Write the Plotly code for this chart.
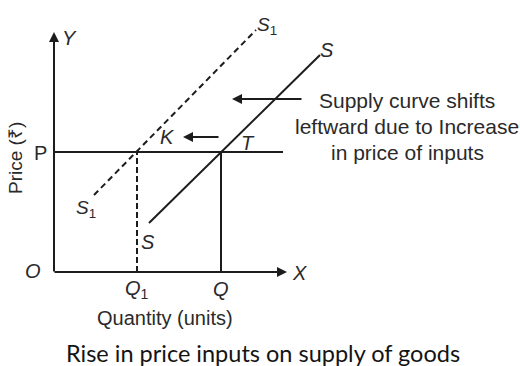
import plotly.graph_objects as go

# Price and quantity levels (origin O at 0, 0)
P = 12.0
Q1 = 8.3
Q = 16.7

# Original supply curve S (solid) and shifted supply curve S1 (dashed)
s_x = [9.5, 26.6]
s_y = [4.9, 21.7]
s1_x = [4.0, 20.2]
s1_y = [7.7, 24.2]

# Axis extents
x_axis_end = 23.3
y_axis_end = 24.0
price_line_end = 22.9

# Shift-indicating arrows (tail x, head x, height)
shift_arrow = (24.9, 17.8, 17.3)
k_arrow = (16.6, 12.9, 13.5)

note_lines = ["Supply curve shifts", "leftward due to Increase", "in price of inputs"]
title_text = "Rise in price inputs on supply of goods"

INK = "#1c1c1c"
TXT = "#2a2a2a"
LINE_FONT = "Liberation Sans, Arial, sans-serif"

fig = go.Figure()

# Price line P
fig.add_trace(go.Scatter(x=[0, price_line_end], y=[P, P], mode="lines",
                         line=dict(color=INK, width=2), hoverinfo="skip"))
# Drop line at Q1 (dashed) and at Q (solid)
fig.add_trace(go.Scatter(x=[Q1, Q1], y=[0, P], mode="lines",
                         line=dict(color=INK, width=2, dash="6px,3px"), hoverinfo="skip"))
fig.add_trace(go.Scatter(x=[Q, Q], y=[0, P], mode="lines",
                         line=dict(color=INK, width=2), hoverinfo="skip"))
# Supply curves
fig.add_trace(go.Scatter(x=s_x, y=s_y, mode="lines",
                         line=dict(color=INK, width=2), hoverinfo="skip"))
fig.add_trace(go.Scatter(x=s1_x, y=s1_y, mode="lines",
                         line=dict(color=INK, width=2, dash="6px,4px"), hoverinfo="skip"))


def arrow(x0, y0, x1, y1, width=2, size=1.0):
    fig.add_annotation(x=x1, y=y1, ax=x0, ay=y0, xref="x", yref="y",
                       axref="x", ayref="y", text="", showarrow=True,
                       arrowhead=2, arrowsize=size, arrowwidth=width,
                       arrowcolor=INK, standoff=0, startstandoff=0)


# Axes with arrowheads
arrow(0, -0.1, 0, y_axis_end)
arrow(-0.1, 0, x_axis_end, 0)
# Shift arrows
arrow(shift_arrow[0], shift_arrow[2], shift_arrow[1], shift_arrow[2])
arrow(k_arrow[0], k_arrow[2], k_arrow[1], k_arrow[2])


def label(x, y, text, size=20, family=LINE_FONT, color=TXT, angle=0, weight="normal"):
    fig.add_annotation(x=x, y=y, xref="x", yref="y", text=text, showarrow=False,
                       font=dict(family=family, size=size, color=color, weight=weight),
                       textangle=angle, xanchor="center", yanchor="middle")


label(1.5, 23.4, "<i>Y</i>")
label(24.5, -0.1, "<i>X</i>")
label(-2.1, 0.1, "<i>O</i>")
label(-1.4, 11.9, "P")
label(Q1, -1.7, "<i>Q</i><sub>1</sub>")
label(Q, -1.7, "<i>Q</i>")
label(21.3, 24.6, "<i>S</i><sub>1</sub>", size=19)
label(27.3, 22.2, "<i>S</i>")
label(3.2, 6.3, "<i>S</i><sub>1</sub>", size=19)
label(9.4, 3.0, "<i>S</i>")
label(11.3, 13.5, "<i>K</i>")
label(19.4, 12.9, "<i>T</i>")
label(-3.9, 11.4, "Price (₹)", size=19, angle=-90)
label(11.1, -4.6, "Quantity (units)", size=20)

for i, line in enumerate(note_lines):
    label(35.3, 17.2 - 2.6 * i, line, size=21)

label(20.9, -8.1, title_text, size=23.5, family="Lato, sans-serif", color="#141414")

fig.update_layout(
    width=520, height=366,
    margin=dict(l=0, r=0, t=0, b=0),
    paper_bgcolor="white", plot_bgcolor="white",
    showlegend=False,
    xaxis=dict(range=[-5.4, 46.6], visible=False, fixedrange=True),
    yaxis=dict(range=[-9.4, 27.2], visible=False, fixedrange=True),
)

fig.write_html("out.html")
